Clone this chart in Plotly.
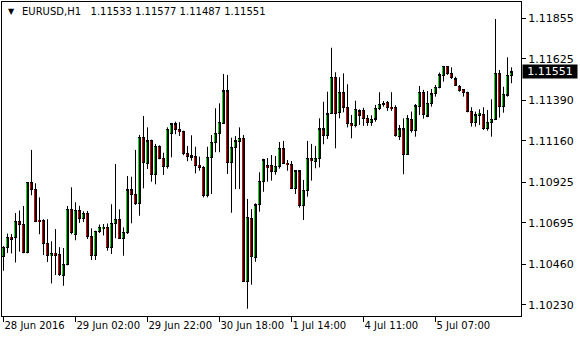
import plotly.graph_objects as go

symbol = "EURUSD,H1"

opens = [1.10504, 1.10557, 1.10614, 1.10614, 1.10706, 1.10687, 1.10526, 1.10923, 1.10886, 1.10710,
         1.10710, 1.10579, 1.10509, 1.10523, 1.10517, 1.10396, 1.10458, 1.10774, 1.10631, 1.10767,
         1.10719, 1.10750, 1.10617, 1.10509, 1.10648, 1.10662, 1.10670, 1.10555, 1.10693, 1.10716,
         1.10608, 1.10640, 1.10882, 1.10857, 1.10806, 1.11181, 1.11033, 1.11164, 1.10971, 1.11131,
         1.11062, 1.11014, 1.11203, 1.11256, 1.11226, 1.11214, 1.11090, 1.11075, 1.11071, 1.11022,
         1.11010, 1.10848, 1.11067, 1.11152, 1.11203, 1.11260, 1.11443, 1.11037, 1.11124, 1.11156,
         1.11175, 1.10364, 1.10721, 1.10500, 1.10797, 1.10931, 1.11018, 1.11022, 1.10988, 1.11016,
         1.11118, 1.11033, 1.11027, 1.10889, 1.10990, 1.10793, 1.10880, 1.11063, 1.11045, 1.11058,
         1.11228, 1.11190, 1.11313, 1.11521, 1.11322, 1.11436, 1.11351, 1.11260, 1.11249, 1.11330,
         1.11334, 1.11286, 1.11266, 1.11284, 1.11345, 1.11368, 1.11377, 1.11351, 1.11351, 1.11186,
         1.11228, 1.11084, 1.11284, 1.11220, 1.11354, 1.11436, 1.11301, 1.11373, 1.11426, 1.11464,
         1.11530, 1.11581, 1.11543, 1.11511, 1.11471, 1.11449, 1.11436, 1.11326, 1.11266, 1.11305,
         1.11311, 1.11232, 1.11266, 1.11279, 1.11543, 1.11354, 1.11420, 1.11533]

highs = [1.10564, 1.10635, 1.10632, 1.10751, 1.10766, 1.10791, 1.10925, 1.11109, 1.10920, 1.10840,
         1.10716, 1.10716, 1.10591, 1.10660, 1.10558, 1.10553, 1.10791, 1.10897, 1.10812, 1.10792,
         1.10761, 1.10763, 1.10665, 1.10651, 1.10686, 1.10689, 1.10692, 1.10801, 1.11029, 1.10772,
         1.10670, 1.10961, 1.10957, 1.11109, 1.11194, 1.11301, 1.11237, 1.11167, 1.11143, 1.11135,
         1.11093, 1.11237, 1.11260, 1.11269, 1.11266, 1.11218, 1.11131, 1.11192, 1.11127, 1.11071,
         1.11018, 1.11127, 1.11194, 1.11345, 1.11373, 1.11539, 1.11534, 1.11178, 1.11188, 1.11237,
         1.11194, 1.10831, 1.10774, 1.10806, 1.10982, 1.11059, 1.11063, 1.11080, 1.11075, 1.11154,
         1.11160, 1.11052, 1.11046, 1.10995, 1.10995, 1.10939, 1.11160, 1.11143, 1.11131, 1.11288,
         1.11382, 1.11439, 1.11688, 1.11549, 1.11521, 1.11543, 1.11481, 1.11307, 1.11388, 1.11339,
         1.11348, 1.11307, 1.11305, 1.11364, 1.11436, 1.11386, 1.11386, 1.11436, 1.11362, 1.11250,
         1.11288, 1.11307, 1.11326, 1.11369, 1.11471, 1.11449, 1.11443, 1.11454, 1.11477, 1.11547,
         1.11585, 1.11585, 1.11577, 1.11524, 1.11477, 1.11453, 1.11439, 1.11351, 1.11326, 1.11339,
         1.11351, 1.11335, 1.11396, 1.11851, 1.11562, 1.11467, 1.11634, 1.11577]

lows = [1.10424, 1.10525, 1.10522, 1.10471, 1.10532, 1.10523, 1.10523, 1.10852, 1.10700, 1.10631,
        1.10513, 1.10474, 1.10352, 1.10400, 1.10394, 1.10339, 1.10455, 1.10631, 1.10597, 1.10695,
        1.10700, 1.10604, 1.10485, 1.10485, 1.10638, 1.10624, 1.10538, 1.10519, 1.10608, 1.10605,
        1.10509, 1.10632, 1.10693, 1.10797, 1.10736, 1.10891, 1.11001, 1.10929, 1.10914, 1.11056,
        1.10967, 1.11003, 1.11067, 1.11198, 1.11188, 1.11079, 1.11045, 1.11048, 1.10976, 1.10991,
        1.10840, 1.10840, 1.10859, 1.11096, 1.11096, 1.11260, 1.10973, 1.10753, 1.10887, 1.10887,
        1.10360, 1.10209, 1.10345, 1.10475, 1.10759, 1.10872, 1.10929, 1.10935, 1.10969, 1.11003,
        1.11029, 1.10991, 1.10887, 1.10859, 1.10782, 1.10712, 1.10844, 1.10935, 1.11005, 1.11010,
        1.11141, 1.11171, 1.11313, 1.11118, 1.11288, 1.11322, 1.11237, 1.11175, 1.11237, 1.11250,
        1.11245, 1.11245, 1.11245, 1.11269, 1.11335, 1.11354, 1.11330, 1.11330, 1.11184, 1.11165,
        1.10971, 1.11080, 1.11207, 1.11184, 1.11307, 1.11286, 1.11294, 1.11354, 1.11411, 1.11458,
        1.11496, 1.11534, 1.11511, 1.11471, 1.11439, 1.11411, 1.11322, 1.11241, 1.11241, 1.11250,
        1.11222, 1.11218, 1.11184, 1.11279, 1.11292, 1.11320, 1.11411, 1.11487]

closes = [1.10557, 1.10614, 1.10602, 1.10706, 1.10687, 1.10526, 1.10923, 1.10886, 1.10704, 1.10702,
          1.10579, 1.10509, 1.10523, 1.10513, 1.10402, 1.10462, 1.10774, 1.10640, 1.10767, 1.10719,
          1.10750, 1.10617, 1.10509, 1.10648, 1.10670, 1.10670, 1.10557, 1.10693, 1.10716, 1.10608,
          1.10640, 1.10882, 1.10857, 1.10806, 1.11181, 1.11037, 1.11160, 1.10971, 1.11131, 1.11062,
          1.11014, 1.11226, 1.11256, 1.11226, 1.11212, 1.11090, 1.11071, 1.11071, 1.11022, 1.11010,
          1.10848, 1.11067, 1.11152, 1.11203, 1.11266, 1.11443, 1.11037, 1.11124, 1.11160, 1.11175,
          1.10364, 1.10727, 1.10504, 1.10797, 1.10931, 1.11052, 1.11008, 1.10988, 1.11016, 1.11118,
          1.11033, 1.11025, 1.10889, 1.10990, 1.10793, 1.10880, 1.11063, 1.11048, 1.11058, 1.11228,
          1.11190, 1.11313, 1.11521, 1.11313, 1.11436, 1.11351, 1.11260, 1.11246, 1.11339, 1.11303,
          1.11286, 1.11266, 1.11284, 1.11345, 1.11368, 1.11373, 1.11348, 1.11341, 1.11190, 1.11228,
          1.11084, 1.11288, 1.11220, 1.11358, 1.11436, 1.11311, 1.11373, 1.11426, 1.11464, 1.11534,
          1.11581, 1.11543, 1.11521, 1.11473, 1.11445, 1.11436, 1.11326, 1.11266, 1.11307, 1.11317,
          1.11232, 1.11266, 1.11279, 1.11543, 1.11354, 1.11424, 1.11532, 1.11551]

time_tick_bars = [0, 18, 36, 54, 72, 90, 108]
time_tick_labels = ["28 Jun 2016", "29 Jun 02:00", "29 Jun 22:00", "30 Jun 18:00",
                    "1 Jul 14:00", "4 Jul 11:00", "5 Jul 07:00"]
price_ticks = [1.10230, 1.10460, 1.10695, 1.10925, 1.11160, 1.11390, 1.11625, 1.11855]
price_range = [1.101676, 1.119474]

bars = list(range(len(closes)))
FONT = "DejaVu Sans"
BULL = "#00E600"
BEAR = "#E60000"
PLOT_H = 340 - 2 - 24
PX = (price_range[1] - price_range[0]) / PLOT_H   # price units per pixel

# wicks (high-low lines)
wx, wy = [], []
for i, h, l in zip(bars, highs, lows):
    wx += [i, i, None]
    wy += [l, h, None]

lo_body = [min(o, c) for o, c in zip(opens, closes)]
hi_body = [max(o, c) for o, c in zip(opens, closes)]
# black outline (outer body) and coloured interior
out_base = [b - 0.5 * PX for b in lo_body]
out_len = [t - b + PX for b, t in zip(lo_body, hi_body)]
in_base = [b + 0.6 * PX for b in lo_body]
in_len = [max(t - b - 1.2 * PX, 0) for b, t in zip(lo_body, hi_body)]
body_col = [BULL if c >= o else BEAR for o, c in zip(opens, closes)]

fig = go.Figure()
fig.add_trace(go.Scatter(x=wx, y=wy, mode="lines", line=dict(color="black", width=1),
                         hoverinfo="skip", showlegend=False))
fig.add_trace(go.Bar(x=bars, y=out_len, base=out_base, width=0.75,
                     marker=dict(color="black", line=dict(width=0)),
                     hoverinfo="skip", showlegend=False))
fig.add_trace(go.Bar(x=bars, y=in_len, base=in_base, width=0.42,
                     marker=dict(color=body_col, line=dict(width=0)),
                     hoverinfo="skip", showlegend=False))

fig.update_layout(
    width=580, height=340,
    margin=dict(l=2, r=59, t=2, b=24),
    paper_bgcolor="white", plot_bgcolor="white",
    font=dict(family=FONT, color="black"),
    showlegend=False, bargap=0, barmode="overlay",
)
fig.update_xaxes(
    range=[-0.375, len(closes) + 1.375],
    tickmode="array", tickvals=time_tick_bars, ticktext=time_tick_labels,
    ticks="outside", ticklen=5, tickcolor="black", tickwidth=1,
    ticklabelposition="outside right", tickangle=0,
    tickfont=dict(family=FONT, size=10, color="black"),
    showline=True, linecolor="black", linewidth=1, mirror=True,
    showgrid=False, zeroline=False,
)
fig.update_yaxes(
    side="right", range=price_range,
    tickmode="array", tickvals=price_ticks, ticktext=[f"{v:.5f}" for v in price_ticks],
    ticks="outside", ticklen=4, tickcolor="black", tickwidth=1,
    tickfont=dict(family=FONT, size=11, color="black"),
    showline=True, linecolor="black", linewidth=1, mirror=True,
    showgrid=False, zeroline=False,
)

last = closes[-1]
fig.add_annotation(
    xref="paper", x=1, xanchor="left", xshift=1,
    yref="y", y=last, yanchor="middle",
    text=f"{last:.5f}", showarrow=False,
    font=dict(family=FONT, size=11, color="white"),
    bgcolor="black", width=52, height=11, borderpad=1, align="center",
)

fig.add_annotation(
    xref="paper", x=0, xanchor="left", xshift=4,
    yref="paper", y=1, yanchor="middle", yshift=-9,
    text="\u25bc", showarrow=False,
    font=dict(family=FONT, size=8, color="black"),
)
title = f"{symbol}   {opens[-1]:.5f} {highs[-1]:.5f} {lows[-1]:.5f} {closes[-1]:.5f}"
fig.add_annotation(
    xref="paper", x=0, xanchor="left", xshift=18,
    yref="paper", y=1, yanchor="middle", yshift=-9,
    text=title, showarrow=False,
    font=dict(family=FONT, size=10, color="black"),
)

fig.write_html("out.html")
